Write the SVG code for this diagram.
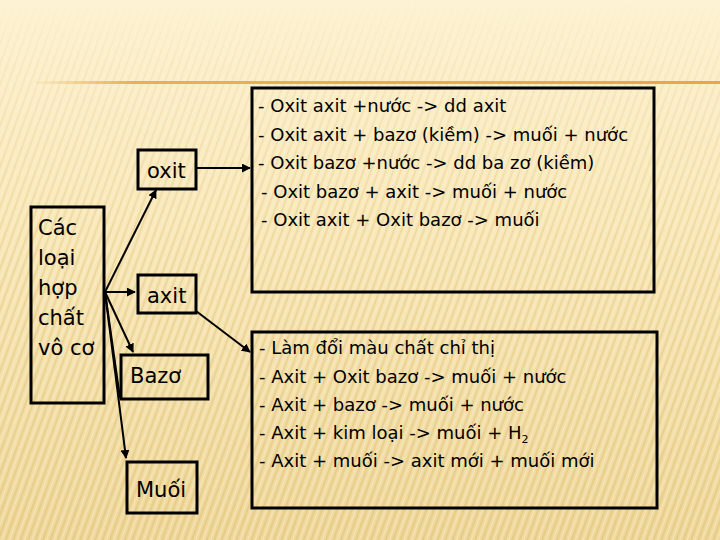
<svg xmlns="http://www.w3.org/2000/svg" width="720" height="540" viewBox="0 0 720 540">
<defs>
<linearGradient id="bg" x1="0" y1="0" x2="0" y2="1">
<stop offset="0" stop-color="#fdf2d3"/>
<stop offset="0.4" stop-color="#f9e9bc"/>
<stop offset="1" stop-color="#efd89c"/>
</linearGradient>
<linearGradient id="fade" x1="0" y1="0" x2="0" y2="1">
<stop offset="0" stop-color="#fff" stop-opacity="0"/>
<stop offset="0.12" stop-color="#fff" stop-opacity="0.3"/>
<stop offset="0.5" stop-color="#fff" stop-opacity="0.8"/>
<stop offset="1" stop-color="#fff" stop-opacity="1"/>
</linearGradient>
<mask id="m"><rect width="720" height="540" fill="url(#fade)"/></mask>
<pattern id="stripes" width="7" height="20" patternUnits="userSpaceOnUse" patternTransform="rotate(20)">
<rect x="0" y="0" width="2" height="20" fill="#d9b86a" opacity="0.4"/>
<rect x="4" y="0" width="1" height="20" fill="#fff8e0" opacity="0.4"/>
</pattern>
<linearGradient id="rule" x1="0" y1="0" x2="1" y2="0">
<stop offset="0" stop-color="#e6a94a" stop-opacity="0"/>
<stop offset="0.15" stop-color="#e6a94a" stop-opacity="0.9"/>
<stop offset="1" stop-color="#e9a745"/>
</linearGradient>
<marker id="arr" viewBox="0 0 10 10" refX="9" refY="5" markerWidth="4.5" markerHeight="4.5" orient="auto" markerUnits="strokeWidth">
<path d="M0,0 L10,5 L0,10 z" fill="#000"/>
</marker>
<style>
.box{fill:none;stroke:#000;stroke-width:3}
.lbl{font-family:"DejaVu Sans",sans-serif;font-size:21px;fill:#000}
.txt{font-family:"DejaVu Sans",sans-serif;font-size:18px;fill:#000}
.con{stroke:#000;stroke-width:2;fill:none}
</style>
</defs>
<rect width="720" height="540" fill="url(#bg)"/>
<rect width="720" height="540" fill="url(#stripes)" mask="url(#m)"/>
<rect x="30" y="81" width="690" height="3" fill="url(#rule)"/>

<g id="connectors">
<line class="con" x1="105" y1="292" x2="156" y2="190" marker-end="url(#arr)"/>
<line class="con" x1="105" y1="292" x2="135" y2="292" marker-end="url(#arr)"/>
<line class="con" x1="105" y1="292" x2="133" y2="352" marker-end="url(#arr)"/>
<line class="con" x1="105" y1="292" x2="120" y2="398"/>
<line class="con" x1="105" y1="292" x2="126" y2="458" marker-end="url(#arr)"/>
<line class="con" x1="197" y1="168" x2="250" y2="168" marker-end="url(#arr)"/>
<line class="con" x1="196" y1="311" x2="250" y2="352" marker-end="url(#arr)"/>
</g>

<g id="n-main">
<rect class="box" x="31" y="207" width="73" height="196"/>
<text class="lbl" x="38" y="235">Các</text>
<text class="lbl" x="38" y="265">loại</text>
<text class="lbl" x="38" y="295">hợp</text>
<text class="lbl" x="38" y="325">chất</text>
<text class="lbl" x="38" y="355">vô cơ</text>
</g>
<g id="n-oxit">
<rect class="box" x="138" y="150" width="58" height="39"/>
<text class="lbl" x="147" y="178">oxit</text>
</g>
<g id="n-axit">
<rect class="box" x="138" y="275" width="58" height="38"/>
<text class="lbl" x="147" y="303">axit</text>
</g>
<g id="n-bazo">
<rect class="box" x="121" y="355" width="87" height="44"/>
<text class="lbl" x="130" y="383">Bazơ</text>
</g>
<g id="n-muoi">
<rect class="box" x="127" y="462" width="70" height="51"/>
<text class="lbl" x="136" y="497">Muối</text>
</g>
<g id="n-oxit-props">
<rect class="box" x="252" y="88" width="402" height="204"/>
<text class="txt" x="258" y="112">- Oxit axit +nước -&gt; dd axit</text>
<text class="txt" x="258" y="141">- Oxit axit + bazơ (kiềm) -&gt; muối + nước</text>
<text class="txt" x="258" y="169">- Oxit bazơ +nước -&gt; dd ba zơ (kiềm)</text>
<text class="txt" x="261" y="198">- Oxit bazơ + axit -&gt; muối + nước</text>
<text class="txt" x="261" y="226">- Oxit axit + Oxit bazơ -&gt; muối</text>
</g>
<g id="n-axit-props">
<rect class="box" x="252" y="332" width="405" height="176"/>
<text class="txt" x="259" y="354">- Làm đổi màu chất chỉ thị</text>
<text class="txt" x="259" y="383">- Axit + Oxit bazơ -&gt; muối + nước</text>
<text class="txt" x="259" y="411">- Axit + bazơ -&gt; muối + nước</text>
<text class="txt" x="259" y="439">- Axit + kim loại -&gt; muối + H<tspan font-size="11" dy="4">2</tspan></text>
<text class="txt" x="259" y="467">- Axit + muối -&gt; axit mới + muối mới</text>
</g>
</svg>
